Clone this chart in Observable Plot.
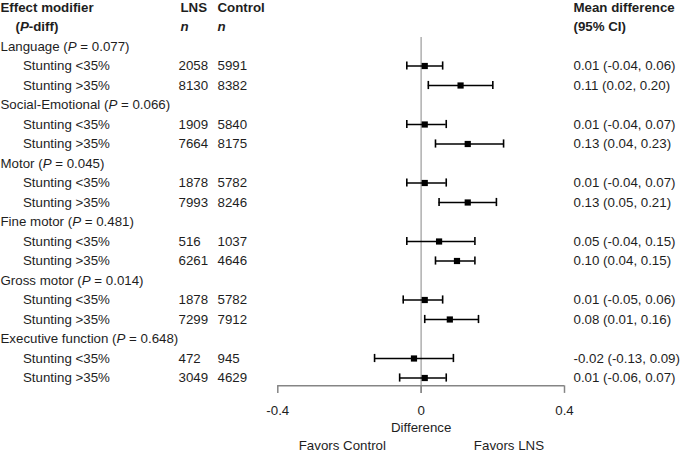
<!DOCTYPE html>
<html>
<head>
<meta charset="utf-8">
<script src="https://cdn.jsdelivr.net/npm/d3@7"></script>
<script src="https://cdn.jsdelivr.net/npm/@observablehq/plot@0.6"></script>
<style>
  body { margin: 0; background: #fff; }
  svg { font-family: "Liberation Sans", Arial, sans-serif; }
</style>
</head>
<body>
<div id="chart"></div>
<script>
const groups = ["Language", "Social-Emotional", "Motor", "Fine motor", "Gross motor", "Executive function"];
const pDiff = ["0.077", "0.066", "0.045", "0.481", "0.014", "0.648"];
const subgroups = ["Stunting <35%", "Stunting >35%"];
const nLNS = [2058, 8130, 1909, 7664, 1878, 7993, 516, 6261, 1878, 7299, 472, 3049];
const nControl = [5991, 8382, 5840, 8175, 5782, 8246, 1037, 4646, 5782, 7912, 945, 4629];
const estimate = [0.01, 0.11, 0.01, 0.13, 0.01, 0.13, 0.05, 0.10, 0.01, 0.08, -0.02, 0.01];
const lower = [-0.04, 0.02, -0.04, 0.04, -0.04, 0.05, -0.04, 0.04, -0.05, 0.01, -0.13, -0.06];
const upper = [0.06, 0.20, 0.07, 0.23, 0.07, 0.21, 0.15, 0.15, 0.06, 0.16, 0.09, 0.07];
const xTicks = [-0.4, 0, 0.4];
const xTickLabels = ["-0.4", "0", "0.4"];

const fmt2 = v => (v < 0 ? "-" : "") + Math.abs(v).toFixed(2);

// build rows
const groupRows = groups.map((g, i) => ({row: i * 3, label: `${g} (P = ${pDiff[i]})`}));
const rows = [];
groups.forEach((g, i) => {
  subgroups.forEach((s, j) => {
    const k = i * 2 + j;
    rows.push({
      row: i * 3 + 1 + j, label: s, nL: String(nLNS[k]), nC: String(nControl[k]),
      est: estimate[k], lo: lower[k], hi: upper[k],
      ci: `${fmt2(estimate[k])} (${fmt2(lower[k])}, ${fmt2(upper[k])})`
    });
  });
});

const FS = 13.3;
const ink = "#1e1e1e";
const txt = (data, opts) => Plot.text(data, {fontSize: FS, fill: ink, textAnchor: "start", frameAnchor: "left", ...opts});

const axisRow = 17.4, tickEnd = 17.79;

const chart = Plot.plot({
  width: 686,
  height: 452,
  margin: 0,
  x: {domain: [-0.4, 0.4], range: [277.3, 564], axis: null},
  y: {domain: [0, 17], range: [46, 377.5], axis: null},
  marks: [
    // zero reference line
    Plot.ruleX([0], {y1: -0.46, y2: tickEnd, stroke: "#b8b8b8", strokeWidth: 1.7}),
    // axis line and ticks
    Plot.ruleY([axisRow], {x1: -0.4, x2: 0.4, stroke: "#858585", strokeWidth: 1.5}),
    Plot.ruleX(xTicks, {y1: axisRow, y2: tickEnd, stroke: "#858585", strokeWidth: 1.5}),
    Plot.text(xTicks, {x: d => d, y: 18.67, text: (d, i) => xTickLabels[i], fontSize: FS, fill: ink}),
    Plot.text(["Difference"], {x: 0, y: 19.54, text: d => d, fontSize: FS, fill: ink}),
    Plot.text(["Favors Control"], {x: -0.22, y: 20.45, text: d => d, fontSize: FS, fill: ink}),
    Plot.text(["Favors LNS"], {x: 0.245, y: 20.45, text: d => d, fontSize: FS, fill: ink}),
    // error bars
    Plot.ruleY(rows, {y: "row", x1: "lo", x2: "hi", stroke: "#000", strokeWidth: 1.6}),
    Plot.ruleX(rows, {x: "lo", y1: d => d.row - 0.21, y2: d => d.row + 0.21, stroke: "#000", strokeWidth: 1.6}),
    Plot.ruleX(rows, {x: "hi", y1: d => d.row - 0.21, y2: d => d.row + 0.21, stroke: "#000", strokeWidth: 1.6}),
    Plot.dot(rows, {x: "est", y: "row", symbol: "square", r: 3.5, fill: "#000", stroke: null}),
    // headers
    txt(["Effect modifier"], {y: -2, text: d => d, fontWeight: "bold"}),
    txt(["(P-diff)"], {y: -1, text: d => d, fontWeight: "bold", dx: 15, className: "pdiff"}),
    txt(["LNS"], {y: -2, text: d => d, fontWeight: "bold", dx: 180}),
    txt(["n"], {y: -1, text: d => d, fontWeight: "bold", fontStyle: "italic", dx: 180}),
    txt(["Control"], {y: -2, text: d => d, fontWeight: "bold", dx: 217}),
    txt(["n"], {y: -1, text: d => d, fontWeight: "bold", fontStyle: "italic", dx: 217}),
    txt(["Mean difference"], {y: -2, text: d => d, fontWeight: "bold", dx: 573}),
    txt(["(95% CI)"], {y: -1, text: d => d, fontWeight: "bold", dx: 573}),
    // group labels
    txt(groupRows, {y: "row", text: "label", className: "grp"}),
    // subgroup rows
    txt(rows, {y: "row", text: "label", dx: 22.5}),
    txt(rows, {y: "row", text: "nL", dx: 178}),
    txt(rows, {y: "row", text: "nC", dx: 217}),
    txt(rows, {y: "row", text: "ci", dx: 573})
  ]
});

// italicize the "P" in labels
const ns = "http://www.w3.org/2000/svg";
chart.querySelectorAll("g.grp text, g.pdiff text").forEach(el => {
  const s = el.textContent;
  const i = s.indexOf("(P");
  if (i < 0) return;
  el.textContent = "";
  el.appendChild(document.createTextNode(s.slice(0, i + 1)));
  const t = document.createElementNS(ns, "tspan");
  t.setAttribute("font-style", "italic");
  t.textContent = "P";
  el.appendChild(t);
  el.appendChild(document.createTextNode(s.slice(i + 2)));
});

document.getElementById("chart").appendChild(chart);
</script>
</body>
</html>
